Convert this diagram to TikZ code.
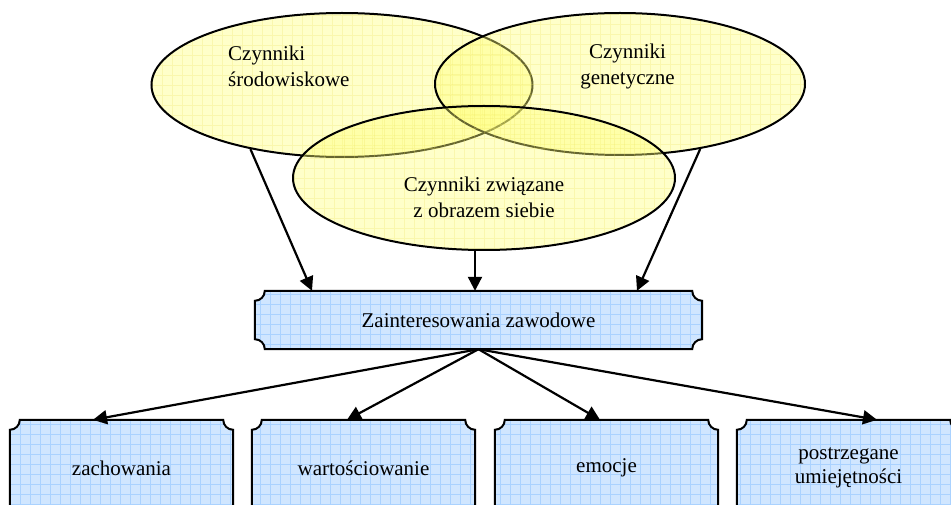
\documentclass[tikz,border=0pt]{standalone}
\usepackage{fontspec}
\setmainfont{Liberation Serif}
\usetikzlibrary{shapes.geometric,arrows.meta,backgrounds}
\definecolor{ellfill}{RGB}{255,255,120}
\definecolor{boxfill}{RGB}{208,230,255}
\definecolor{boxgrid}{RGB}{170,210,255}
\definecolor{ellgrid}{RGB}{235,225,90}
\tikzset{
  txt/.style={font=\fontsize{21}{26}\selectfont, align=center, inner sep=0pt},
  ell/.style={ellipse, draw=black, line width=2pt, fill=ellfill, fill opacity=0.4, text opacity=1, inner sep=0pt,
    path picture={\draw[ellgrid, draw opacity=0.25, line width=0.5pt, step=10pt] (path picture bounding box.south west) grid (path picture bounding box.north east);}},
  boxnode/.style={rectangle, inner sep=0pt, font=\fontsize{21}{24}\selectfont, align=center},
  plaquestyle/.style={draw=black, line width=2pt, fill=boxfill,
    path picture={\draw[boxgrid, line width=0.6pt, step=10pt] (path picture bounding box.south west) grid (path picture bounding box.north east);}},
  conn/.style={line width=2.2pt, -{Triangle[length=14pt,width=14pt]}}
}
\newcommand\plaquepath[1]{%
  \path[plaquestyle] ([xshift=10pt]#1.north west) -- ([xshift=-10pt]#1.north east)
    arc[start angle=180,end angle=270,radius=10pt] -- ([yshift=10pt]#1.south east)
    arc[start angle=90,end angle=180,radius=10pt] -- ([xshift=10pt]#1.south west)
    arc[start angle=0,end angle=90,radius=10pt] -- ([yshift=-10pt]#1.north west)
    arc[start angle=270,end angle=360,radius=10pt] -- cycle;}
\begin{document}
\begin{tikzpicture}[x=1pt,y=1pt]
\useasboundingbox (0,0) rectangle (951,504);
% ellipses
\node[ell, minimum width=381pt, minimum height=144pt] (L) at (342,419) {};
\node[ell, minimum width=370pt, minimum height=142pt] (R) at (620,420) {};
\node[ell, minimum width=382pt, minimum height=144pt] (B) at (484,326) {};
\node[txt, align=left, anchor=west] (Lt) at (228,438) {Czynniki\\środowiskowe};
\node[txt] (Rt) at (627.5,438) {Czynniki\\genetyczne};
\node[txt] (Bt) at (484,306.5) {Czynniki związane\\z obrazem siebie};
% boxes
\node[boxnode, minimum width=447pt, minimum height=58pt] (M) at (478.5,184) {Zainteresowania zawodowe};
\node[boxnode, minimum width=223pt, minimum height=96pt] (b1) at (121.5,36) {zachowania};
\node[boxnode, minimum width=223pt, minimum height=96pt] (b2) at (363.5,36) {wartościowanie};
\node[boxnode, minimum width=223pt, minimum height=96pt] (b3) at (606.5,36) {emocje};
\node[boxnode, minimum width=223pt, minimum height=96pt] (b4) at (848.5,36) {postrzegane\\umiejętności};
\begin{scope}[on background layer]
  \plaquepath{M}
  \plaquepath{b1}
  \plaquepath{b2}
  \plaquepath{b3}
  \plaquepath{b4}
\end{scope}
% connectors
\coordinate (tL) at ([xshift=-166.5pt]M.north);
\coordinate (tB) at ([xshift=-3.5pt]M.north);
\coordinate (tR) at ([xshift=158.5pt]M.north);
\draw[conn] (L.215) -- (tL);
\draw[conn] (B.south -| tB) -- (tB);
\draw[conn] (R.-39) -- (tR);
\draw[conn] (M.south) -- ([xshift=-28.5pt]b1.north);
\draw[conn] (M.south) -- ([xshift=-16.5pt]b2.north);
\draw[conn] (M.south) -- ([xshift=-6.5pt]b3.north);
\draw[conn] (M.south) -- ([xshift=28.5pt]b4.north);
\end{tikzpicture}
\end{document}
